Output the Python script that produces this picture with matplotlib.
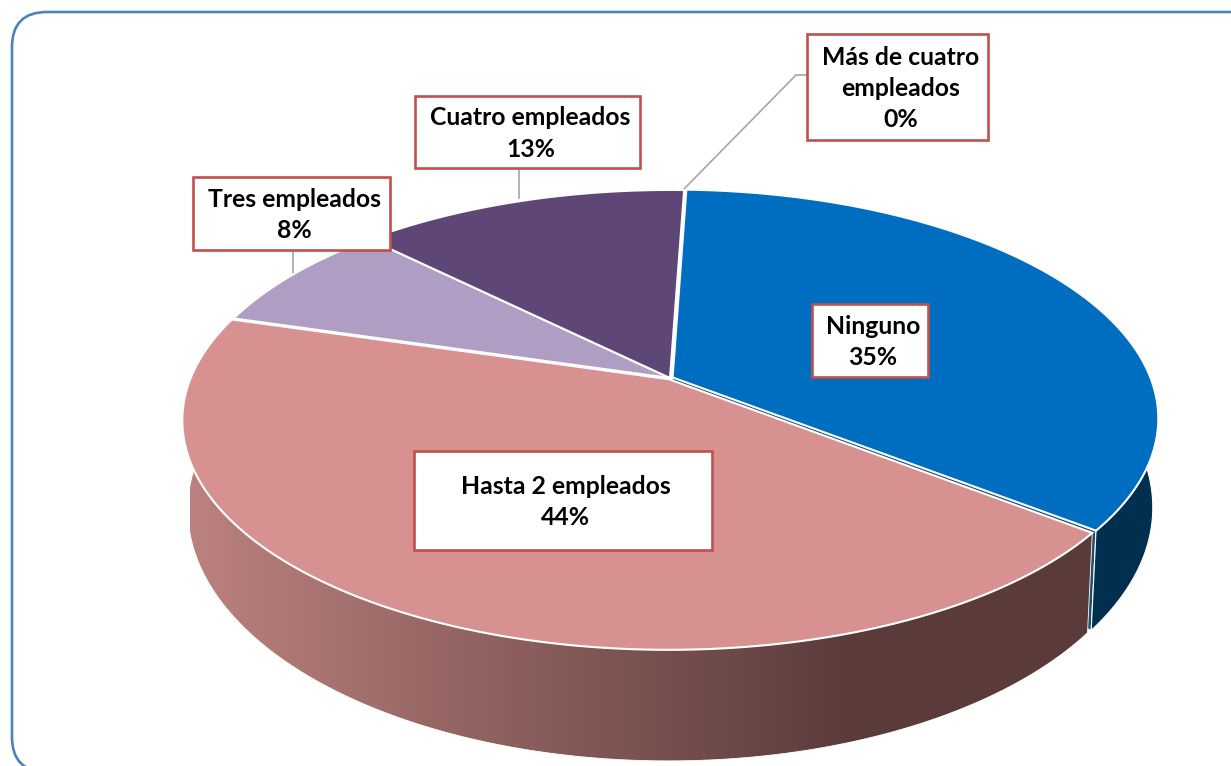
import matplotlib
matplotlib.use('Agg')
import matplotlib.pyplot as plt
import numpy as np
from matplotlib.colors import LinearSegmentedColormap
from matplotlib.patches import FancyBboxPatch, PathPatch, Polygon
from matplotlib.path import Path

categories = ['Ninguno', 'Hasta 2 empleados', 'Tres empleados', 'Cuatro empleados', 'Más de cuatro\nempleados']
values = [35.0, 44.0, 7.9, 13.1, 0.0]
top_colors = ['#006EC0', '#D79190', '#B09DC3', '#5E4777', '#5E4777']

# label boxes as left, top, right, bottom in pixels
boxes = [(812, 304, 928, 377), (414, 451, 712, 550), (193, 177, 390, 250),
         (415, 96, 640, 168), (807, 34, 988, 140)]

START = 2.0
EXPLODE = 0.006


def to_pixels(u, v, low=False):
  den = 1 + 0.179 * v
  if low:
    return 670 + 472.6 * u / den, 463 - 243 * v / den
  return 670 + 478 * u / den, 378 - 221.7 * v / den


def arc(a, b, low=False, shift=(0, 0)):
  th = np.radians(np.linspace(a, b, max(int(abs(b - a)) * 2, 2)))
  return np.column_stack(to_pixels(np.sin(th) + shift[0], np.cos(th) + shift[1], low))


def draw_top(ax, a, b, color, shift=(0, 0)):
  pts = np.vstack([[to_pixels(shift[0], shift[1])], arc(a, b, False, shift)])
  ax.add_patch(Polygon(pts, closed=True, facecolor=color, edgecolor='white', linewidth=1.5, zorder=4))


def explode(a, b):
  mid = np.radians((a + b) / 2)
  return EXPLODE * np.sin(mid), EXPLODE * np.cos(mid)


def main():
  fig = plt.figure(figsize=(12.31, 7.66), dpi=100)
  ax = fig.add_axes([0, 0, 1, 1])
  ax.set_xlim(0, 1231)
  ax.set_ylim(766, 0)
  ax.axis('off')

  ax.add_patch(FancyBboxPatch((47, 47), 1260, 690, boxstyle='round,pad=35,rounding_size=35',
                              facecolor='white', edgecolor='#4F81BD', linewidth=1.9, zorder=0))

  edges = START + np.cumsum([0] + values) * 3.6
  blue_end = edges[1]
  rose_end = edges[2]
  blue_shift = explode(edges[0], edges[1])
  rose_shift = explode(edges[1], edges[2])

  # cut face of the blue slice, only seen in the gap next to the rose slice
  cut = np.vstack([[to_pixels(blue_shift[0], blue_shift[1])], arc(blue_end, blue_end, False, blue_shift),
                   arc(blue_end, blue_end, True, blue_shift), [to_pixels(blue_shift[0], blue_shift[1], True)]])
  ax.add_patch(Polygon(cut, closed=True, facecolor='#1F4E6E', edgecolor='white', linewidth=0.8, zorder=0.8))

  # rose side wall with its gradient
  wall = np.vstack([arc(blue_end, rose_end, False, rose_shift), arc(rose_end, blue_end, True, rose_shift)])
  clip = PathPatch(Path(np.vstack([wall, wall[0]])), transform=ax.transData, facecolor='none', edgecolor='none')
  ax.add_patch(clip)
  cmap = LinearSegmentedColormap.from_list('side', ['#BB817E', '#5A3B3A'])
  grad = np.clip(np.linspace(0, 1.36, 256), 0, 1).reshape(1, -1)
  img = ax.imshow(grad, extent=(190, 1100, 766, 300), cmap=cmap, vmin=0, vmax=1, aspect='auto', zorder=1)
  img.set_clip_path(clip)
  ax.set_xlim(0, 1231)
  ax.set_ylim(766, 0)
  ax.add_patch(Polygon(wall, closed=True, facecolor='none', edgecolor='white', linewidth=0.6, zorder=1.5))

  # dark blue side wall
  blue_wall = np.vstack([arc(70, blue_end, False, blue_shift), arc(blue_end, 70, True, blue_shift)])
  ax.add_patch(Polygon(blue_wall, closed=True, facecolor='#002F50', edgecolor='white', linewidth=0.8, zorder=2))

  # top faces, the zero slice has no area
  draw_top(ax, edges[2], edges[3], top_colors[2])
  draw_top(ax, edges[3], edges[4], top_colors[3])
  draw_top(ax, edges[1], edges[2], top_colors[1], rose_shift)
  draw_top(ax, edges[0], edges[1], top_colors[0], blue_shift)

  # leader lines
  ax.plot([683, 796, 808], [190, 75, 75], color='#A6A6A6', lw=1.2, zorder=3)
  ax.plot([293, 293], [250, 277], color='#A6A6A6', lw=1.2, zorder=3)
  ax.plot([519, 519], [168, 198], color='#A6A6A6', lw=1.2, zorder=3)

  for cat, val, box in zip(categories, values, boxes):
    l, t, r, b = box
    ax.add_patch(plt.Rectangle((l, t), r - l, b - t, facecolor='white', edgecolor='#C0504D', linewidth=1.9, zorder=5))
    ax.text((l + r) / 2 + 3, (t + b) / 2 + 1.5, f'{cat}\n{val:.0f}%', family='Lato', weight='bold', size=17.8,
            color='black', ha='center', va='center', linespacing=1.43, zorder=6)

  fig.savefig('out.png', dpi=100)


if __name__ == "__main__":
  main()
